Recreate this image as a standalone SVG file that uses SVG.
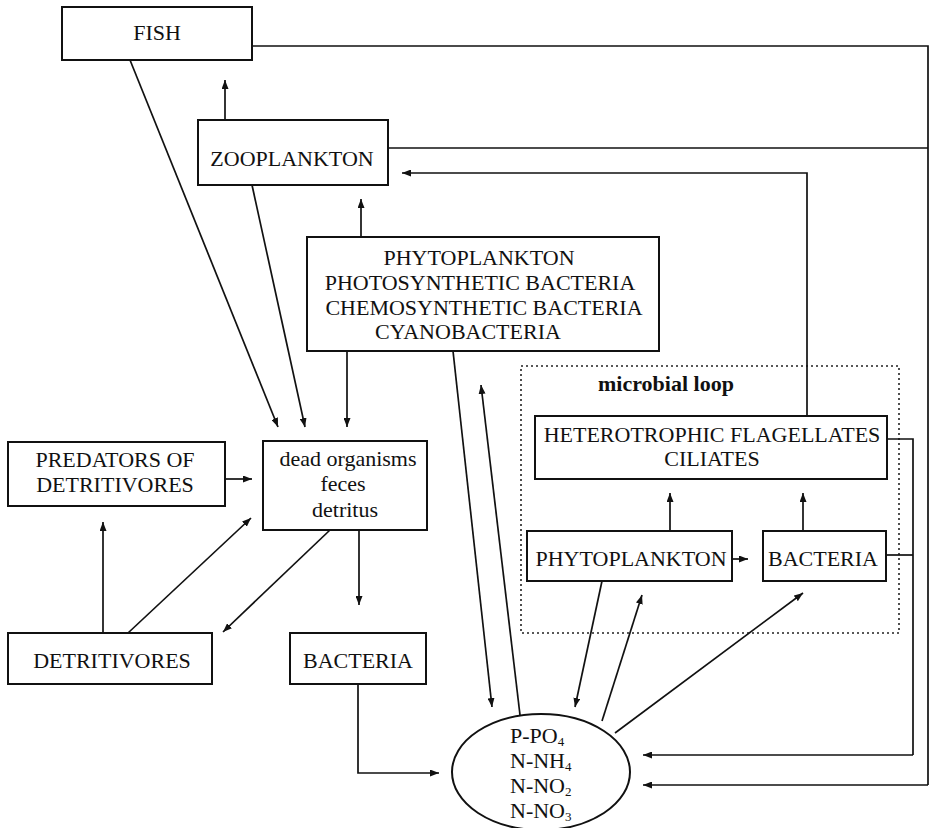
<svg xmlns="http://www.w3.org/2000/svg" width="933" height="828" viewBox="0 0 933 828">
<defs>
<marker id="ah" viewBox="0 0 9 7" refX="9" refY="3.5" markerWidth="9" markerHeight="7" markerUnits="userSpaceOnUse" orient="auto">
<path d="M0,0 L9,3.5 L0,7 z" fill="#111"/>
</marker>
<style>
.box{fill:#fff;stroke:#111;stroke-width:2}
.t{font-family:"Liberation Serif","Times New Roman",serif;font-size:22px;fill:#111;text-anchor:middle}
.tl{font-family:"Liberation Serif","Times New Roman",serif;font-size:22px;fill:#111}
.sub{font-size:13px}
.c{fill:none;stroke:#111;stroke-width:1.7}
.a{fill:none;stroke:#111;stroke-width:1.7;marker-end:url(#ah)}
.dot{fill:none;stroke:#222;stroke-width:1.6;stroke-dasharray:2 3}
</style>
</defs>
<rect x="0" y="0" width="933" height="828" fill="#fff"/>

<g id="microbial-loop">
<rect class="dot" x="521" y="366" width="378" height="267"/>
<text class="t" x="666" y="391" font-weight="bold">microbial loop</text>
</g>

<g id="connectors">
<polyline class="c" points="252,46 928,46 928,785"/>
<line class="c" x1="388" y1="148" x2="928" y2="148"/>
<line class="a" x1="928" y1="785" x2="643" y2="785"/>
<polyline class="a" points="807,416 807,173 402,173"/>
<polyline class="c" points="887,439 913,439 913,755"/>
<line class="c" x1="886" y1="555" x2="913" y2="555"/>
<line class="a" x1="913" y1="755" x2="643" y2="755"/>
<line class="a" x1="225" y1="120" x2="225" y2="80"/>
<line class="a" x1="361" y1="237" x2="361" y2="199"/>
<line class="a" x1="130" y1="60" x2="278" y2="427"/>
<line class="a" x1="252" y1="185" x2="305" y2="427"/>
<line class="a" x1="347" y1="351" x2="347" y2="427"/>
<line class="a" x1="225" y1="479" x2="252" y2="479"/>
<line class="a" x1="128" y1="633" x2="251" y2="518"/>
<line class="a" x1="103" y1="633" x2="103" y2="522"/>
<line class="a" x1="330" y1="530" x2="223" y2="632"/>
<line class="a" x1="359" y1="530" x2="359" y2="605"/>
<polyline class="a" points="358,684 358,773 439,773"/>
<line class="a" x1="453" y1="351" x2="492" y2="707"/>
<line class="a" x1="520" y1="715" x2="481" y2="385"/>
<line class="a" x1="602" y1="581" x2="575" y2="707"/>
<line class="a" x1="602" y1="721" x2="642" y2="595"/>
<line class="a" x1="615" y1="733" x2="803" y2="593"/>
<line class="a" x1="670" y1="531" x2="670" y2="493"/>
<line class="a" x1="803" y1="531" x2="803" y2="493"/>
<line class="a" x1="732" y1="559" x2="748" y2="559"/>
</g>

<g id="fish">
<rect class="box" x="62" y="7" width="190" height="53"/>
<text class="t" x="157" y="40">FISH</text>
</g>

<g id="zooplankton">
<rect class="box" x="198" y="120" width="190" height="65"/>
<text class="t" x="292" y="166">ZOOPLANKTON</text>
</g>

<g id="producers">
<rect class="box" x="307" y="237" width="352" height="114"/>
<text class="t" x="479" y="265">PHYTOPLANKTON</text>
<text class="t" x="480" y="290">PHOTOSYNTHETIC BACTERIA</text>
<text class="t" x="484" y="315">CHEMOSYNTHETIC BACTERIA</text>
<text class="t" x="468" y="339">CYANOBACTERIA</text>
</g>

<g id="predators">
<rect class="box" x="8" y="442" width="217" height="64"/>
<text class="t" x="115" y="467">PREDATORS OF</text>
<text class="t" x="115" y="492">DETRITIVORES</text>
</g>

<g id="dead-organisms">
<rect class="box" x="263" y="441" width="164" height="89"/>
<text class="t" x="348" y="466">dead organisms</text>
<text class="t" x="343" y="491">feces</text>
<text class="t" x="345" y="517">detritus</text>
</g>

<g id="detritivores">
<rect class="box" x="8" y="633" width="204" height="51"/>
<text class="t" x="112" y="668">DETRITIVORES</text>
</g>

<g id="bacteria">
<rect class="box" x="290" y="633" width="136" height="51"/>
<text class="t" x="358" y="668">BACTERIA</text>
</g>

<g id="heterotrophs">
<rect class="box" x="535" y="416" width="352" height="63"/>
<text class="t" x="712" y="442">HETEROTROPHIC FLAGELLATES</text>
<text class="t" x="712" y="466">CILIATES</text>
</g>

<g id="loop-phytoplankton">
<rect class="box" x="527" y="531" width="205" height="50"/>
<text class="t" x="631" y="566">PHYTOPLANKTON</text>
</g>

<g id="loop-bacteria">
<rect class="box" x="763" y="531" width="123" height="50"/>
<text class="t" x="823" y="566">BACTERIA</text>
</g>

<g id="nutrients">
<ellipse fill="#fff" stroke="#111" stroke-width="2" cx="541" cy="772" rx="89" ry="58"/>
<text class="tl" x="510" y="743">P-PO<tspan class="sub" dy="3">4</tspan></text>
<text class="tl" x="510" y="768">N-NH<tspan class="sub" dy="3">4</tspan></text>
<text class="tl" x="510" y="793">N-NO<tspan class="sub" dy="3">2</tspan></text>
<text class="tl" x="510" y="818">N-NO<tspan class="sub" dy="3">3</tspan></text>
</g>
</svg>
